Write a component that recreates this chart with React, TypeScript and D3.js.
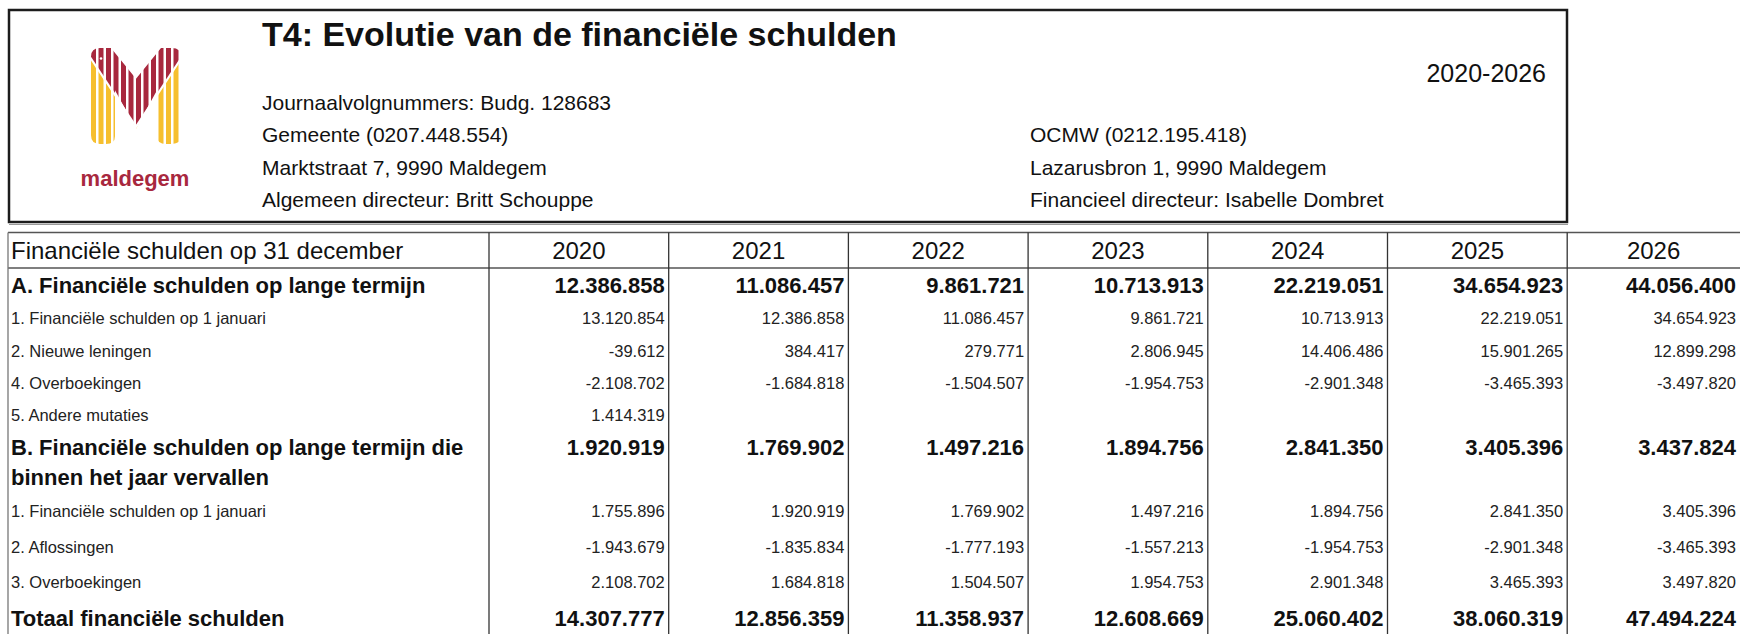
import React, { useRef, useEffect } from "react";
import * as d3 from "d3";

const years = ["2020", "2021", "2022", "2023", "2024", "2025", "2026"];

// A. lange termijn
const aTotal = [12386858, 11086457, 9861721, 10713913, 22219051, 34654923, 44056400];
const aOpening = [13120854, 12386858, 11086457, 9861721, 10713913, 22219051, 34654923];
const aNewLoans = [-39612, 384417, 279771, 2806945, 14406486, 15901265, 12899298];
const aTransfers = [-2108702, -1684818, -1504507, -1954753, -2901348, -3465393, -3497820];
const aOther = [1414319, null, null, null, null, null, null];
// B. binnen het jaar vervallen
const bTotal = [1920919, 1769902, 1497216, 1894756, 2841350, 3405396, 3437824];
const bOpening = [1755896, 1920919, 1769902, 1497216, 1894756, 2841350, 3405396];
const bRepayments = [-1943679, -1835834, -1777193, -1557213, -1954753, -2901348, -3465393];
const bTransfers = [2108702, 1684818, 1504507, 1954753, 2901348, 3465393, 3497820];
const grandTotal = [14307777, 12856359, 11358937, 12608669, 25060402, 38060319, 47494224];

const rows: { label: string[]; values: (number | null)[]; bold: boolean }[] = [
  { label: ["A. Financiële schulden op lange termijn"], values: aTotal, bold: true },
  { label: ["1. Financiële schulden op 1 januari"], values: aOpening, bold: false },
  { label: ["2. Nieuwe leningen"], values: aNewLoans, bold: false },
  { label: ["4. Overboekingen"], values: aTransfers, bold: false },
  { label: ["5. Andere mutaties"], values: aOther, bold: false },
  {
    label: ["B. Financiële schulden op lange termijn die", "binnen het jaar vervallen"],
    values: bTotal,
    bold: true,
  },
  { label: ["1. Financiële schulden op 1 januari"], values: bOpening, bold: false },
  { label: ["2. Aflossingen"], values: bRepayments, bold: false },
  { label: ["3. Overboekingen"], values: bTransfers, bold: false },
  { label: ["Totaal financiële schulden"], values: grandTotal, bold: true },
];

const headerLeft = [
  "Journaalvolgnummers: Budg. 128683",
  "Gemeente (0207.448.554)",
  "Marktstraat 7, 9990 Maldegem",
  "Algemeen directeur: Britt Schouppe",
];
const headerRight = [
  "OCMW (0212.195.418)",
  "Lazarusbron 1, 9990 Maldegem",
  "Financieel directeur: Isabelle Dombret",
];

// row heights (layout only)
const rowHeights = [34, 33, 33, 31, 32, 62, 36, 36, 35, 36];

const nl = d3.formatLocale({
  decimal: ",",
  thousands: ".",
  grouping: [3],
  currency: ["€", ""],
  minus: "-",
});
const fmt = nl.format(",d");

const FONT = "'Liberation Sans', Arial, Helvetica, sans-serif";

const App: React.FC = () => {
  const svgRef = useRef<SVGSVGElement>(null);
  const width = 1740;
  const height = 634;

  useEffect(() => {
    if (!svgRef.current) return;
    const svg = d3.select(svgRef.current);
    svg.selectAll("*").remove();
    svg.style("font-family", FONT);

    // ---- header box ----
    svg
      .append("rect")
      .attr("x", 9)
      .attr("y", 10)
      .attr("width", 1558)
      .attr("height", 212)
      .attr("fill", "none")
      .attr("stroke", "#1c1c1c")
      .attr("stroke-width", 2.5);
    svg
      .append("line")
      .attr("x1", 9)
      .attr("x2", 1568)
      .attr("y1", 224.5)
      .attr("y2", 224.5)
      .attr("stroke", "#9a9a9a")
      .attr("stroke-width", 1);

    // logo
    const logo = svg.append("g").attr("transform", "translate(91,48) scale(1,0.96)");
    const defs = svg.append("defs");
    const silhouette =
      "M0,9 Q0,0 9,0 L20,0 L45,32 L70,0 L81,0 Q90,0 90,9 L90,91 Q90,100 81,100 L75,100 Q66,100 66,92 L66,44 L45,84 L24,44 L24,92 Q24,100 15,100 L9,100 Q0,100 0,91 Z";
    defs.append("clipPath").attr("id", "m-shape").append("path").attr("d", silhouette);
    defs
      .append("clipPath")
      .attr("id", "m-red")
      .append("path")
      .attr("d", "M-2,-2 L92,-2 L92,6 L45,80 L-2,6 Z");
    defs
      .append("clipPath")
      .attr("id", "m-yellow")
      .append("path")
      .attr("d", "M-2,10 L45,84 L92,10 L92,102 L-2,102 Z");
    const stripes = d3.range(0, 90, 7.5);
    const drawStripes = (clip: string, color: string) => {
      logo
        .append("g")
        .attr("clip-path", "url(#m-shape)")
        .append("g")
        .attr("clip-path", `url(#${clip})`)
        .selectAll("rect")
        .data(stripes)
        .enter()
        .append("rect")
        .attr("x", (d) => d)
        .attr("y", 0)
        .attr("width", 5)
        .attr("height", 100)
        .attr("fill", color);
    };
    drawStripes("m-red", "#a8283e");
    drawStripes("m-yellow", "#f6bf2e");
    logo.append("circle").attr("cx", 10).attr("cy", 11).attr("r", 1.3).attr("fill", "#fff");
    svg
      .append("text")
      .attr("x", 135)
      .attr("y", 186)
      .attr("text-anchor", "middle")
      .attr("font-size", 22)
      .attr("font-weight", "bold")
      .attr("fill", "#a8283e")
      .text("maldegem");

    svg
      .append("text")
      .attr("x", 262)
      .attr("y", 46)
      .attr("font-size", 34)
      .attr("font-weight", "bold")
      .attr("fill", "#111")
      .text("T4: Evolutie van de financiële schulden");
    svg
      .append("text")
      .attr("x", 1546)
      .attr("y", 82)
      .attr("text-anchor", "end")
      .attr("font-size", 25)
      .attr("fill", "#111")
      .text("2020-2026");

    const infoY = d3.scalePoint<number>().domain([0, 1, 2, 3]).range([110, 207]);
    headerLeft.forEach((t, i) => {
      svg
        .append("text")
        .attr("x", 262)
        .attr("y", infoY(i) ?? 0)
        .attr("font-size", 21)
        .attr("fill", "#111")
        .text(t);
    });
    headerRight.forEach((t, i) => {
      svg
        .append("text")
        .attr("x", 1030)
        .attr("y", infoY(i + 1) ?? 0)
        .attr("font-size", 21)
        .attr("fill", "#111")
        .text(t);
    });

    // ---- table ----
    const tableTop = 232.5;
    const headerH = 35.5;
    const labelLeft = 8;
    const colW = 179.7;
    const x = d3
      .scaleBand<string>()
      .domain(years)
      .range([489, 489 + colW * years.length]);
    const colRight = (y: string) => Math.min((x(y) ?? 0) + x.bandwidth(), width);

    const tops = [tableTop + headerH];
    rowHeights.forEach((h, i) => tops.push(tops[i] + h));

    // borders
    svg
      .append("line")
      .attr("x1", labelLeft)
      .attr("x2", width)
      .attr("y1", tableTop)
      .attr("y2", tableTop)
      .attr("stroke", "#555")
      .attr("stroke-width", 1.6);
    svg
      .append("line")
      .attr("x1", labelLeft)
      .attr("x2", width)
      .attr("y1", tableTop + headerH)
      .attr("y2", tableTop + headerH)
      .attr("stroke", "#555")
      .attr("stroke-width", 1.3);
    const vx = [labelLeft, 489, ...years.map(colRight).filter((d) => d < width)];
    svg
      .selectAll(".vline")
      .data(vx)
      .enter()
      .append("line")
      .attr("class", "vline")
      .attr("x1", (d) => d)
      .attr("x2", (d) => d)
      .attr("y1", tableTop)
      .attr("y2", height)
      .attr("stroke", (d, i) => (i === 0 ? "#777" : "#333"))
      .attr("stroke-width", 1.3);

    // header row
    const headMid = tableTop + headerH / 2;
    svg
      .append("text")
      .attr("x", labelLeft + 3)
      .attr("y", headMid)
      .attr("dy", "0.36em")
      .attr("font-size", 24)
      .attr("fill", "#111")
      .text("Financiële schulden op 31 december");
    svg
      .selectAll(".year")
      .data(years)
      .enter()
      .append("text")
      .attr("class", "year")
      .attr("x", (d) => ((x(d) ?? 0) + colRight(d)) / 2)
      .attr("y", headMid)
      .attr("dy", "0.36em")
      .attr("text-anchor", "middle")
      .attr("font-size", 24)
      .attr("fill", "#111")
      .text((d) => d);

    // body rows
    rows.forEach((row, ri) => {
      const top = tops[ri];
      const h = rowHeights[ri];
      const size = row.bold ? 22 : 16.5;
      const firstMid = row.label.length > 1 ? top + 16 : top + h / 2;
      const g = svg.append("g");
      row.label.forEach((line, li) => {
        g.append("text")
          .attr("x", labelLeft + 3)
          .attr("y", firstMid + li * 30)
          .attr("dy", "0.36em")
          .attr("font-size", size)
          .attr("font-weight", row.bold ? "bold" : "normal")
          .attr("fill", row.bold ? "#111" : "#222")
          .text(line);
      });
      g.selectAll(".val")
        .data(row.values.map((v, i) => ({ v, year: years[i] })))
        .enter()
        .filter((d) => d.v !== null)
        .append("text")
        .attr("class", "val")
        .attr("x", (d) => colRight(d.year) - 4)
        .attr("y", firstMid)
        .attr("dy", "0.36em")
        .attr("text-anchor", "end")
        .attr("font-size", size)
        .attr("font-weight", row.bold ? "bold" : "normal")
        .attr("fill", row.bold ? "#111" : "#222")
        .text((d) => fmt(d.v as number));
    });
  }, []);

  return (
    <svg
      ref={svgRef}
      width={width}
      height={height}
      style={{ position: "absolute", left: 0, top: 0, background: "#fff" }}
    ></svg>
  );
};

export default App;
